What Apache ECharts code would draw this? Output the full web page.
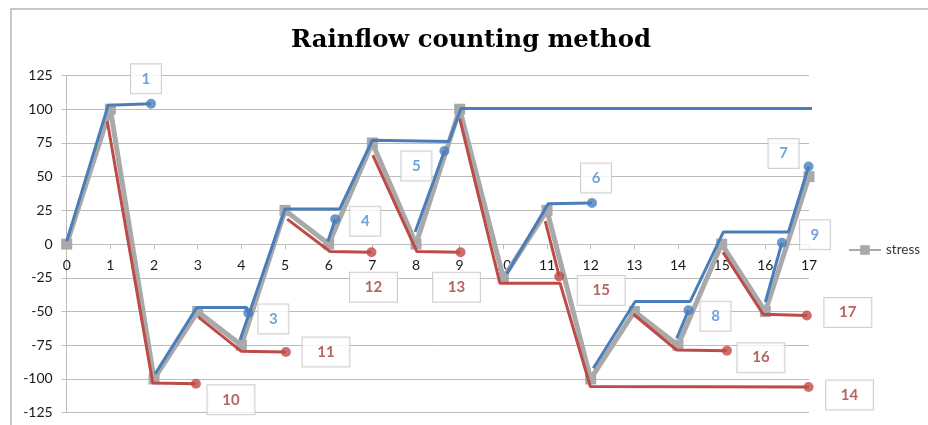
<!DOCTYPE html>
<html>
<head>
<meta charset="utf-8">
<script src="https://cdn.jsdelivr.net/npm/echarts@6/dist/echarts.min.js"></script>
<style>
  html, body { margin: 0; padding: 0; background: #fff; }
  #chart { width: 928px; height: 425px; }
</style>
</head>
<body>
<div id="chart"></div>
<script>
// Stress history: one reversal point per step 0..17
const stress = [0, 100, -100, -50, -75, 25, 0, 75, 0, 100, -25, 25, -100, -50, -75, 0, -50, 50];

// Rising half cycles (rain paths from valleys), [step, stress]
const rise1 = [[0, 2], [0.95, 103], [1.93, 104]];
const rise2 = [[3.97, -71], [5, 26], [6.25, 26], [7, 77], [8.75, 76], [9.03, 100.5], [17.1, 100.5]];
const rise3 = [[2.03, -96], [2.98, -47], [4.12, -47], [4.16, -51]];
const rise4 = [[5.98, 2], [6.15, 18.5]];
const rise5 = [[7.98, 9], [8.65, 69]];
const rise6 = [[10.08, -22], [11.03, 30], [12.03, 30.5]];
const rise7 = [[12.06, -92], [13.02, -42.5], [14.28, -42.5], [15.04, 9], [16.53, 9], [16.99, 57.5]];
const rise8 = [[13.97, -70], [14.24, -49]];
const rise9 = [[16.0, -43], [16.38, 1]];

// Falling half cycles (rain paths from peaks), [step, stress]
const fall10 = [[0.93, 91], [1.97, -103], [2.96, -103.5]];
const fall11 = [[3.01, -54], [4.0, -79.5], [5.02, -80]];
const fall12 = [[5.05, 18.5], [6.03, -5.5], [6.98, -6]];
const fall13 = [[7.01, 66], [8.02, -5.5], [9.02, -6]];
const fall14 = [[9.0, 93], [9.92, -29], [11.3, -29], [11.99, -105.5], [16.99, -106]];
const fall15 = [[10.96, 17], [11.28, -24]];
const fall16 = [[12.98, -52], [13.97, -78.5], [15.12, -79]];
const fall17 = [[15.03, -6], [15.95, -52], [16.95, -53]];

const risePaths = { 1: rise1, 2: rise2, 3: rise3, 4: rise4, 5: rise5, 6: rise6, 7: rise7, 8: rise8, 9: rise9 };
const fallPaths = { 10: fall10, 11: fall11, 12: fall12, 13: fall13, 14: fall14, 15: fall15, 16: fall16, 17: fall17 };

// Where each numbered tag sits relative to its path's end dot (pixels)
const tagOffset = {
  1: [-5, -25], 2: [-4, -26], 3: [25, 6], 4: [30, 2], 5: [-28, 15], 6: [4, -25],
  7: [-25, -13], 8: [27, 6], 9: [33, -8],
  10: [35, 16], 11: [40, 0], 12: [2, 35], 13: [-4, 35], 14: [41, 8],
  15: [42, 14], 16: [34, 7], 17: [41, -3]
};

const BLUE = '#4a7ebb';
const RED = '#be4b48';
const GRAY = '#a9a9a9';
const GRID = '#bcbcbc';
const AXIS_FONT = 'Lato, "Liberation Sans", sans-serif';

// Plot rectangle inside the canvas
const PLOT = { left: 66.7, right: 119, top: 75.5, bottom: 12.3 };
const plotHeight = 425 - PLOT.top - PLOT.bottom;

const pathSeries = (paths, color) => Object.keys(paths).map(k => ({
  type: 'line',
  name: 'path' + k,
  data: paths[k],
  symbol: 'none',
  lineStyle: { color: color, width: 3 },
  z: 3,
  silent: true
}));

const endDots = (paths, color, textColor, boxW) => ({
  type: 'scatter',
  name: 'ends',
  symbol: 'circle',
  symbolSize: 10,
  itemStyle: { color: color },
  z: 10,
  data: Object.keys(paths).map(k => {
    const p = paths[k];
    return {
      value: p[p.length - 1],
      name: k,
      label: { offset: tagOffset[k] }
    };
  }),
  label: {
    show: true,
    position: 'inside',
    formatter: '{b}',
    color: textColor,
    fontFamily: AXIS_FONT,
    fontWeight: 'bold',
    fontSize: 15,
    backgroundColor: '#fff',
    borderColor: '#c3c3c3',
    borderWidth: 1,
    width: boxW,
    height: 29,
    lineHeight: 29,
    align: 'center',
    verticalAlign: 'middle'
  }
});

const chart = echarts.init(document.getElementById('chart'), null, { renderer: 'canvas' });

chart.setOption({
  animation: false,
  backgroundColor: '#fff',
  title: {
    text: 'Rainflow counting method',
    left: 466,
    top: 24,
    textAlign: 'center',
    textStyle: {
      fontFamily: '"DejaVu Serif", serif',
      fontWeight: 'bold',
      fontSize: 24.3,
      color: '#000'
    }
  },
  graphic: [{
    type: 'rect',
    shape: { x: 11, y: 9, width: 940, height: 440 },
    style: { fill: 'none', stroke: '#b5b5b5', lineWidth: 1.5 },
    silent: true,
    z: -1
  }],
  legend: {
    data: ['stress'],
    left: 843,
    top: 238,
    itemWidth: 32,
    itemHeight: 12,
    textStyle: { fontFamily: AXIS_FONT, fontSize: 13.5, color: '#333' }
  },
  grid: {
    left: PLOT.left, right: PLOT.right, top: PLOT.top, bottom: PLOT.bottom,
    containLabel: false,
    outerBoundsMode: 'none'
  },
  xAxis: {
    type: 'value',
    min: 0,
    max: 17,
    interval: 1,
    position: 'bottom',
    // the axis runs along stress = 0, halfway up the symmetric range
    offset: -plotHeight / 2,
    axisLine: { onZero: false, lineStyle: { color: GRID, width: 1 } },
    axisTick: { show: true, length: 5, lineStyle: { color: GRID } },
    axisLabel: { margin: 14, fontFamily: AXIS_FONT, fontSize: 14, color: '#1a1a1a' },
    splitLine: { show: false }
  },
  yAxis: {
    type: 'value',
    min: -125,
    max: 125,
    interval: 25,
    axisLine: { show: true, onZero: false, lineStyle: { color: GRID, width: 1 } },
    axisTick: { show: true, length: 5, lineStyle: { color: GRID } },
    axisLabel: { margin: 14, fontFamily: AXIS_FONT, fontSize: 14, color: '#1a1a1a' },
    splitLine: { show: true, lineStyle: { color: GRID, width: 1 } }
  },
  series: [
    {
      type: 'line',
      name: 'stress',
      data: stress.map((v, i) => [i, v]),
      symbol: 'rect',
      symbolSize: 11,
      showAllSymbol: true,
      itemStyle: { color: GRAY },
      lineStyle: { color: GRAY, width: 5 },
      z: 2
    },
    ...pathSeries(risePaths, BLUE),
    ...pathSeries(fallPaths, RED),
    endDots(risePaths, BLUE, '#4f8bd3', 30),
    endDots(fallPaths, RED, '#a33d3b', 47)
  ]
});
</script>
</body>
</html>
